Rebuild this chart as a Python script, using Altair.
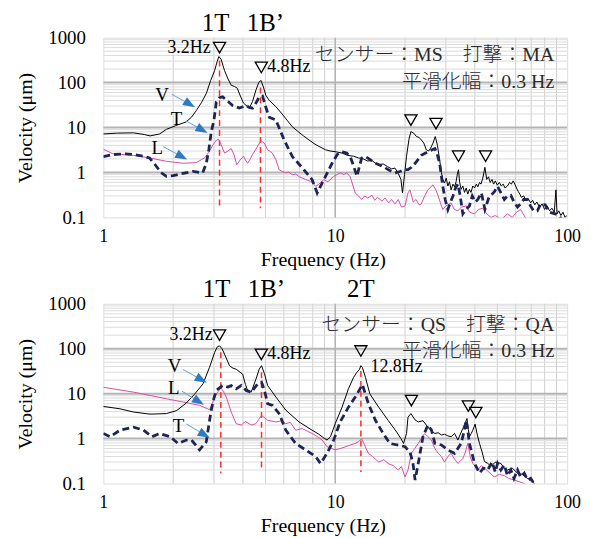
import altair as alt
import pandas as pd

SERIF = "Liberation Serif, Times New Roman, serif"
CJK = "Liberation Serif, Noto Sans CJK JP, sans-serif"

# ---------------- top panel: センサー MS / 打撃 MA ----------------
top_V_f = [1.0, 1.15, 1.35, 1.5, 1.59, 1.75, 1.87, 2.05, 2.28, 2.4, 2.52, 2.65, 2.78, 2.9, 3.02, 3.1, 3.15, 3.22,
           3.33, 3.45, 3.56, 3.68, 3.78, 3.9, 4.02, 4.13, 4.26, 4.4, 4.55, 4.68, 4.78, 4.9, 5.02, 5.2, 5.55, 5.9,
           6.2, 6.53, 6.9, 7.3, 7.7, 8.1, 8.5, 9.08, 9.5, 10.0, 10.7, 11.3, 12.0, 12.6, 13.2, 13.8, 14.4, 14.9,
           15.5, 16.1, 16.8, 17.5, 18.1, 18.7, 19.2, 19.5, 19.9, 20.3, 20.8, 21.2, 21.8, 22.4, 23.0, 23.5, 24.1,
           24.7, 25.3, 25.8, 26.4, 27.0, 27.6, 28.2, 28.7, 29.1, 29.6, 30.1, 30.6, 31.1, 31.6, 32.2, 32.7, 33.2,
           33.6, 34.0, 34.4, 34.9, 35.5, 36.1, 36.7, 37.3, 37.9, 38.5, 39.2, 39.9, 40.6, 41.2, 41.9, 42.5, 43.3,
           44.2, 45.0, 45.8, 46.6, 47.4, 48.2, 49.0, 50.0, 51.0, 52.0, 53.0, 54.0, 55.3, 56.5, 57.5, 58.5, 59.5,
           60.5, 61.5, 62.5, 63.5, 65.0, 66.5, 68.0, 69.6, 71.0, 72.5, 74.0, 76.0, 78.0, 80.0, 82.0, 84.0, 86.0,
           88.0, 89.5, 90.5, 92.0, 94.0, 96.0, 98.0, 99.5]
top_V_v = [7.2, 7.5, 7.6, 7.0, 6.5, 7.2, 9.1, 11, 13.4, 17, 24, 36, 57, 110, 186, 300, 380, 330,
           186, 120, 87, 82, 75, 50, 35, 31, 27, 38, 68, 100, 112, 80, 52, 40, 29, 20,
           14.5, 10.4, 8.2, 6.5, 5.3, 4.4, 3.8, 3.2, 3.0, 2.9, 2.7, 2.4, 2.3, 2.1, 2.0, 1.8, 1.85, 1.6,
           1.5, 1.55, 1.35, 1.2, 1.25, 0.95, 0.7, 0.35, 0.9, 2.3, 5.5, 8.1, 7.5, 6.3, 6.0, 5.3, 4.5,
           3.2, 3.0, 3.5, 4.5, 6.3, 4.0, 1.9, 1.0, 0.7, 0.58, 0.75, 0.5, 0.62, 0.41, 0.55, 0.48, 0.62,
           0.9, 1.15, 0.6, 0.42, 0.5, 0.36, 0.45, 0.33, 0.42, 0.36, 0.5, 0.45, 0.55, 0.48, 0.6, 0.55, 0.75,
           1.3, 0.7, 0.8, 0.6, 0.7, 0.55, 0.65, 0.52, 0.6, 0.5, 0.55, 0.45, 0.5, 0.6, 0.55, 0.65, 0.55,
           0.45, 0.38, 0.33, 0.28, 0.3, 0.24, 0.26, 0.21, 0.24, 0.19, 0.22, 0.17, 0.2, 0.15, 0.18, 0.14, 0.16,
           0.13, 0.41, 0.12, 0.14, 0.11, 0.13, 0.1, 0.11]

top_T_f = [1.0, 1.1, 1.25, 1.35, 1.49, 1.58, 1.67, 1.77, 1.87, 2.0, 2.2, 2.44, 2.6, 2.68, 2.78, 2.85, 2.92, 3.0,
           3.07, 3.17, 3.27, 3.45, 3.61, 3.86, 4.0, 4.13, 4.26, 4.4, 4.55, 4.7, 4.86, 5.0, 5.19, 5.55, 6.02,
           6.53, 7.21, 7.95, 8.36, 8.93, 9.69, 10.2, 10.7, 11.2, 11.6, 12.0, 12.4, 13.0, 13.5, 14.2, 14.9, 15.6,
           16.4, 17.2, 18.1, 19.0, 20.0, 20.6, 21.3, 22.1, 23.5, 25.1, 26.9, 27.5, 28.2, 29.1, 29.8, 30.6, 31.4,
           32.2, 33.0, 33.8, 34.6, 35.5, 36.6, 37.9, 39.0, 40.2, 41.2, 42.7, 44.2, 46.0, 48.5, 50.1, 51.8, 53.6,
           55.3, 57.2, 59.0, 61.1, 63.0, 65.0, 67.4, 69.5, 71.7, 74.4, 77.0, 80.5, 84.0, 88.8, 92.0, 95.0]
top_T_v = [2.26, 2.5, 2.6, 2.5, 2.3, 2.1, 1.5, 1.0, 0.82, 0.85, 0.95, 1.06, 1.0, 0.98, 1.6, 3.2, 8, 14.6,
           37, 46, 48, 38, 31, 27, 29, 31, 28, 27, 35, 48, 50, 30, 17, 14.6, 5.3,
           2.26, 1.27, 0.69, 0.35, 0.69, 1.6, 2.5, 2.9, 2.7, 2.26, 1.4, 0.82, 2.1, 2.26, 1.9, 1.6, 1.45,
           1.27, 1.1, 0.98, 1.05, 1.15, 1.15, 1.3, 1.6, 2.4, 2.9, 3.4, 2.6, 1.6, 0.49, 0.25, 0.15, 0.22,
           0.3, 0.45, 0.55, 0.3, 0.12, 0.15, 0.18, 0.3, 0.22, 0.25, 0.35, 0.15, 0.28, 0.37, 0.49, 0.35, 0.25,
           0.3, 0.31, 0.22, 0.17, 0.2, 0.25, 0.25, 0.18, 0.14, 0.14, 0.2, 0.19, 0.13, 0.12, 0.11, 0.09]

top_L_f = [1.0, 1.1, 1.35, 1.59, 1.87, 2.21, 2.52, 2.73, 2.85, 2.97, 3.07, 3.14, 3.22, 3.33, 3.45, 3.56, 3.66,
           3.76, 3.89, 4.02, 4.1, 4.19, 4.3, 4.4, 4.6, 4.78, 4.94, 5.11, 5.36, 5.55, 5.73, 5.9, 6.12, 6.3, 6.53,
           6.75, 7.0, 7.21, 7.45, 7.83, 8.0, 8.23, 8.5, 8.93, 9.3, 9.85, 10.2, 10.5, 10.9, 11.2, 11.6, 12.2,
           12.6, 13.0, 13.4, 13.8, 14.4, 14.8, 15.2, 15.9, 16.4, 17.0, 17.5, 18.1, 18.7, 19.3, 20.0, 20.6, 21.0,
           21.7, 22.3, 23.0, 23.5, 24.3, 25.1, 26.4, 27.2, 27.8, 28.5, 29.1, 30.0, 31.6, 32.6, 33.8, 35.0, 36.7,
           38.0, 39.9, 41.5, 43.3, 45.0, 47.0, 49.0, 52.0, 55.3, 58.0, 60.5, 63.0, 66.0, 69.0, 72.0]
top_L_v = [3.3, 2.6, 2.4, 2.1, 1.77, 1.6, 1.66, 2.1, 2.8, 4.1, 5.2, 5.5, 4.2, 2.7, 3.0, 3.4, 2.5,
           1.48, 1.9, 2.3, 1.9, 1.6, 2.0, 2.5, 3.6, 5.1, 4.5, 3.2, 2.7, 1.9, 1.15, 1.05, 0.98, 1.02, 0.89,
           0.92, 0.8, 0.75, 0.7, 0.63, 0.58, 0.49, 0.55, 0.69, 0.62, 0.82, 0.9, 0.98, 0.9, 0.98, 0.8, 0.35,
           0.3, 0.25, 0.3, 0.27, 0.31, 0.24, 0.28, 0.23, 0.27, 0.21, 0.25, 0.2, 0.25, 0.17, 0.18, 0.35, 0.41,
           0.22, 0.25, 0.19, 0.2, 0.3, 0.41, 0.53, 0.4, 0.3, 0.2, 0.15, 0.18, 0.21, 0.15, 0.14, 0.17, 0.18,
           0.13, 0.12, 0.15, 0.16, 0.12, 0.1, 0.11, 0.09, 0.12, 0.1, 0.13, 0.15, 0.1, 0.08, 0.09]

# ---------------- bottom panel: センサー QS / 打撃 QA ----------------
bot_V_f = [1.0, 1.18, 1.35, 1.59, 1.87, 2.07, 2.28, 2.48, 2.69, 2.87, 3.02, 3.1, 3.17, 3.25, 3.33, 3.5, 3.62,
           3.74, 3.99, 4.1, 4.19, 4.34, 4.55, 4.7, 4.81, 4.95, 5.11, 5.55, 6.12, 6.98, 7.95, 8.5, 8.78, 9.0,
           9.22, 9.54, 10.0, 10.7, 11.4, 12.0, 12.4, 12.7, 12.9, 13.1, 13.5, 14.1, 15.4, 16.9, 18.4, 19.2,
           19.7, 20.3, 20.6, 21.2, 22.1, 22.8, 23.9, 25.1, 26.0, 26.9, 27.8, 28.7, 29.6, 30.6, 31.6, 32.7,
           33.8, 34.5, 35.5, 36.3, 37.0, 37.5, 37.9, 38.6, 39.2, 40.1, 41.0, 41.9, 43.0, 44.0, 45.5, 47.0,
           49.0, 51.8, 53.5, 55.3, 58.0, 61.1, 64.0, 67.4, 70.0, 72.0, 75.0]
bot_V_v = [5.2, 4.6, 3.9, 3.5, 3.6, 4.2, 6.2, 9.9, 16.5, 38.6, 83, 110, 116, 100, 76, 42, 37,
           35, 27, 16, 11.8, 10.8, 21, 35, 42, 28, 15.2, 8.4, 4.3, 2.35, 1.54, 1.25, 1.1, 1.0,
           0.93, 1.1, 2.15, 5.0, 12.8, 23, 30, 34, 42, 38, 23, 9.9, 5.0, 2.56, 1.4, 1.0,
           0.78, 1.3, 3.0, 3.6, 2.6, 2.35, 2.5, 1.8, 1.5, 1.3, 1.35, 1.2, 1.25, 1.15, 1.1, 1.3,
           0.93, 1.2, 1.67, 2.2, 2.8, 1.6, 1.1, 1.3, 1.54, 2.1, 1.2, 0.78, 0.5, 0.31, 0.28, 0.24,
           0.3, 0.28, 0.22, 0.2, 0.22, 0.17, 0.16, 0.13, 0.12, 0.1, 0.08]

bot_T_f = [1.0, 1.07, 1.18, 1.35, 1.49, 1.62, 1.75, 1.94, 2.1, 2.28, 2.4, 2.6, 2.78, 2.85, 2.92, 3.0, 3.07,
           3.27, 3.45, 3.56, 3.74, 3.93, 4.13, 4.34, 4.63, 4.81, 4.95, 5.11, 5.36, 5.73, 6.12, 6.75, 7.45,
           8.23, 8.64, 9.22, 9.85, 10.5, 11.4, 12.2, 13.1, 13.9, 14.9, 16.1, 17.2, 18.7, 20.0, 21.0, 21.6,
           22.1, 22.8, 23.9, 25.1, 26.0, 26.9, 28.7, 30.6, 32.7, 34.9, 36.0, 36.7, 37.3, 37.9, 39.9, 41.9,
           43.5, 45.4, 47.5, 49.0, 50.1, 51.8, 53.6, 55.3, 57.2, 59.0, 61.1, 63.0, 65.3, 67.5, 69.6, 73.0]
bot_T_v = [1.3, 1.1, 1.54, 1.8, 1.54, 1.1, 1.3, 1.1, 0.78, 0.93, 0.93, 0.56, 0.85, 2.0, 4.3, 8.0, 11.8,
           15.2, 14, 15.2, 12.8, 15.2, 11.8, 10.8, 16.5, 18, 12, 6, 5.5, 3.6, 1.54, 0.78, 0.56,
           0.4, 0.28, 0.47, 0.93, 2.35, 5.0, 8.4, 15.9, 6, 2.56, 1.3, 0.78, 0.72, 0.66, 0.5, 0.3,
           0.12, 0.28, 1.1, 2.0, 1.54, 0.78, 0.72, 0.56, 0.47, 0.78, 1.5, 2.56, 1.5, 0.78, 0.28, 0.17,
           0.22, 0.2, 0.3, 0.18, 0.28, 0.2, 0.26, 0.15, 0.2, 0.13, 0.2, 0.14, 0.17, 0.12, 0.13, 0.09]

bot_L_f = [1.0, 1.35, 1.87, 2.6, 2.87, 2.95, 3.02, 3.12, 3.22, 3.3, 3.39, 3.56, 3.74, 3.93, 4.1, 4.34, 4.55,
           4.81, 5.11, 5.55, 5.9, 6.12, 6.4, 6.75, 7.21, 7.6, 7.95, 8.4, 8.78, 9.22, 10.0, 10.5, 11.1, 11.6,
           12.2, 12.6, 13.0, 13.4, 13.9, 14.5, 15.4, 16.2, 16.9, 17.8, 18.7, 19.3, 20.0, 20.6, 21.3, 22.0,
           22.8, 23.5, 24.3, 25.1, 26.0, 26.9, 27.8, 28.7, 29.6, 30.6, 31.6, 32.7, 33.8, 34.7, 35.5, 36.4,
           37.3, 38.2, 39.2, 40.2, 41.2, 42.6, 44.0, 46.0, 48.5, 51.0, 53.6, 56.0, 59.1, 62.0, 65.3, 70.0]
bot_L_v = [13.9, 10.8, 7.7, 5.5, 4.4, 6, 8.4, 11, 13.4, 11, 8.4, 3.9, 2.15, 2.0, 2.4, 2.0, 2.15,
           3.3, 2.56, 2.35, 2.5, 2.15, 2.3, 1.54, 1.67, 1.45, 1.3, 1.1, 0.93, 0.66, 0.56, 0.6, 0.66, 0.72,
           0.78, 0.85, 1.0, 0.7, 0.47, 0.4, 0.3, 0.34, 0.28, 0.25, 0.2, 0.24, 0.14, 0.2, 0.47, 0.6,
           0.78, 1.0, 1.3, 1.1, 0.93, 0.6, 0.47, 0.4, 0.3, 0.4, 0.47, 0.35, 0.28, 0.32, 0.36, 0.5,
           0.78, 0.4, 0.28, 0.24, 0.2, 0.25, 0.22, 0.18, 0.14, 0.16, 0.15, 0.13, 0.12, 0.11, 0.1, 0.08]

# ---------------- annotations ----------------
top_mode_labels = ["1T", "1B’"]
top_mode_f = [3.05, 5.0]
bot_mode_labels = ["1T", "1B’", "2T"]
bot_mode_f = [3.08, 5.05, 12.9]

top_tri_f = [3.17, 4.8, 21.2, 27.2, 34.0, 44.5]
top_tri_v = [600, 217, 14.6, 12.2, 2.3, 2.3]
bot_tri_f = [3.17, 4.8, 12.9, 21.3, 37.5, 40.4]
bot_tri_v = [201, 75, 89, 7.0, 5.3, 3.8]

top_red_f = [3.17, 4.76]
top_red_top = [310, 78]
top_red_bot = [0.16, 0.16]
bot_red_f = [3.21, 4.81, 12.9]
bot_red_top = [83, 30, 32]
bot_red_bot = [0.17, 0.2, 0.18]

top_peakL_text = ["3.2Hz"]; top_peakL_f = [2.9]; top_peakL_v = [600]
top_peakR_text = ["4.8Hz"]; top_peakR_f = [5.09]; top_peakR_v = [217]
bot_peakL_text = ["3.2Hz"]; bot_peakL_f = [2.96]; bot_peakL_v = [201]
bot_peakR_text = ["4.8Hz", "12.8Hz"]; bot_peakR_f = [5.09, 14.2]; bot_peakR_v = [75, 38.5]

top_note_text = ["センサー：MS　打撃：MA", "平滑化幅：0.3 Hz"]
top_note_v = [400, 101]
bot_note_text = ["センサー：QS　打撃：QA", "平滑化幅：0.3 Hz"]
bot_note_v = [343, 91]
note_f = 88

top_arrow_lab = ["V", "T", "L"]
top_lab_f = [1.79, 2.07, 1.71]
top_lab_v = [53, 15.4, 3.52]
top_arr_f0 = [1.97, 2.27, 1.81]
top_arr_v0 = [55, 14.1, 3.77]
top_arr_f1 = [2.36, 2.67, 2.18]
top_arr_v1 = [33, 8.8, 2.25]
top_arr_ang = [31, 30, 29]

bot_arrow_lab = ["V", "L", "T"]
bot_lab_f = [2.03, 2.01, 2.11]
bot_lab_v = [40.5, 13.2, 1.91]
bot_arr_f0 = [2.2, 2.18, 2.28]
bot_arr_v0 = [34.8, 11.4, 2.12]
bot_arr_f1 = [2.65, 2.58, 2.73]
bot_arr_v1 = [20.4, 6.65, 1.22]
bot_arr_ang = [29, 32, 30]

x_minor = [2, 3, 4, 5, 6, 7, 8, 9, 20, 30, 40, 50, 60, 70, 80, 90]
x_major = [10]
y_minor = [0.2, 0.3, 0.4, 0.5, 0.6, 0.7, 0.8, 0.9, 2, 3, 4, 5, 6, 7, 8, 9,
           20, 30, 40, 50, 60, 70, 80, 90, 200, 300, 400, 500, 600, 700, 800, 900]
y_major = [1, 10, 100]

W, H = 467, 181
C_V, C_T, C_L = "#000000", "#1f2456", "#d44fa6"

xs = alt.Scale(type="log", domain=[1, 100], nice=False)
ys = alt.Scale(type="log", domain=[0.1, 1000], nice=False)
xax = alt.Axis(values=[1, 10, 100], format="~g", grid=False, ticks=False, tickSize=0, domain=False,
               labelFont=SERIF, labelFontSize=18, labelColor="black", labelPadding=10,
               labelFlush=False, title="Frequency (Hz)", titleFont=SERIF, titleFontSize=20,
               titleFontWeight="normal", titleColor="black", titleX=221, titleY=32,
               titleBaseline="top")
yax = alt.Axis(values=[0.1, 1, 10, 100, 1000], format="~g", grid=False, ticks=False, tickSize=0,
               domain=False, labelFont=SERIF, labelFontSize=19, labelColor="black", labelPadding=18,
               title="Velocity (μm)", titleFont=SERIF, titleFontSize=20, titleFontWeight="normal",
               titleColor="black", titlePadding=12)
X = alt.X("f:Q", scale=xs, axis=xax)
Y = alt.Y("v:Q", scale=ys, axis=yax)


def panel(curves, modes, modes_f, tri_f, tri_v, red_f, red_t, red_b, pl, pr, notes, notes_v,
          alab, alab_f, alab_v, af0, av0, af1, av1, aang):
    layers = []
    layers.append(alt.Chart(pd.DataFrame({"f": x_minor})).mark_rule(color="#cfcfcf", strokeWidth=1).encode(x=X))
    layers.append(alt.Chart(pd.DataFrame({"v": y_minor})).mark_rule(color="#dcdcdc", strokeWidth=1).encode(y=Y))
    layers.append(alt.Chart(pd.DataFrame({"f": x_major})).mark_rule(color="#b0b0b0", strokeWidth=1.5).encode(x=X))
    layers.append(alt.Chart(pd.DataFrame({"v": y_major})).mark_rule(color="#b4b4b4", strokeWidth=2).encode(y=Y))
    # red dashed lines
    layers.append(alt.Chart(pd.DataFrame({"f": red_f, "v": red_t, "v2": red_b})).mark_rule(
        color="#ff2a2a", strokeWidth=1.5, strokeDash=[6, 4]).encode(x=X, y=Y, y2="v2:Q"))
    for f, v, color, width, dash in curves:
        kw = dict(color=color, strokeWidth=width, clip=True)
        if dash:
            kw["strokeDash"] = dash
        layers.append(alt.Chart(pd.DataFrame({"f": f, "v": v})).mark_line(**kw).encode(x=X, y=Y, order="f:Q"))
    # peak markers
    layers.append(alt.Chart(pd.DataFrame({"f": tri_f, "v": tri_v})).mark_point(
        shape="triangle-down", filled=False, color="black", size=150, strokeWidth=1.3, opacity=1).encode(x=X, y=Y))
    lt, lf, lv = pl
    layers.append(alt.Chart(pd.DataFrame({"f": lf, "v": lv, "t": lt})).mark_text(
        align="right", baseline="middle", font=SERIF, fontSize=18, color="black").encode(x=X, y=Y, text="t:N"))
    rt, rf, rv = pr
    layers.append(alt.Chart(pd.DataFrame({"f": rf, "v": rv, "t": rt})).mark_text(
        align="left", baseline="middle", font=SERIF, fontSize=18, color="black").encode(x=X, y=Y, text="t:N"))
    # notes
    layers.append(alt.Chart(pd.DataFrame({"f": [note_f] * len(notes), "v": notes_v, "t": notes})).mark_text(
        align="right", baseline="middle", font=CJK, fontSize=20, fontWeight=300, color="#2a2a2a").encode(
        x=X, y=Y, text="t:N"))
    # mode titles above plot
    layers.append(alt.Chart(pd.DataFrame({"f": modes_f, "t": modes})).mark_text(
        align="center", baseline="middle", font=SERIF, fontSize=25, color="black").encode(
        x=X, y=alt.value(-15), text="t:N"))
    # arrows
    layers.append(alt.Chart(pd.DataFrame({"f": af0, "v": av0, "f2": af1, "v2": av1})).mark_rule(
        color="#5ba3d9", strokeWidth=1).encode(x=X, y=Y, x2="f2:Q", y2="v2:Q"))
    layers.append(alt.Chart(pd.DataFrame({"f": af1, "v": av1, "a": aang})).mark_point(
        shape="M-1,-0.75L1,0L-1,0.75Z", filled=True, color="#2e7bc4", size=150, opacity=1).encode(
        x=X, y=Y, angle=alt.Angle("a:Q", scale=None)))
    layers.append(alt.Chart(pd.DataFrame({"f": alab_f, "v": alab_v, "t": alab})).mark_text(
        align="center", baseline="middle", font=SERIF, fontSize=19, color="black").encode(x=X, y=Y, text="t:N"))
    return alt.layer(*layers).properties(width=W, height=H)


top = panel(
    [(top_L_f, top_L_v, C_L, 1, None), (top_V_f, top_V_v, C_V, 1, None), (top_T_f, top_T_v, C_T, 2.8, [7, 4])],
    top_mode_labels, top_mode_f, top_tri_f, top_tri_v, top_red_f, top_red_top, top_red_bot,
    (top_peakL_text, top_peakL_f, top_peakL_v), (top_peakR_text, top_peakR_f, top_peakR_v),
    top_note_text, top_note_v, top_arrow_lab, top_lab_f, top_lab_v,
    top_arr_f0, top_arr_v0, top_arr_f1, top_arr_v1, top_arr_ang)

bottom = panel(
    [(bot_L_f, bot_L_v, C_L, 1, None), (bot_V_f, bot_V_v, C_V, 1, None), (bot_T_f, bot_T_v, C_T, 2.8, [7, 4])],
    bot_mode_labels, bot_mode_f, bot_tri_f, bot_tri_v, bot_red_f, bot_red_top, bot_red_bot,
    (bot_peakL_text, bot_peakL_f, bot_peakL_v), (bot_peakR_text, bot_peakR_f, bot_peakR_v),
    bot_note_text, bot_note_v, bot_arrow_lab, bot_lab_f, bot_lab_v,
    bot_arr_f0, bot_arr_v0, bot_arr_f1, bot_arr_v1, bot_arr_ang)

chart = alt.vconcat(top, bottom, spacing=6).properties(
    padding={"left": 7, "top": 0, "right": 4, "bottom": 0}
).configure_view(stroke="black", strokeWidth=1.5).configure(background="white")

chart.save("out.html", embed_options={"renderer": "svg", "actions": False})
